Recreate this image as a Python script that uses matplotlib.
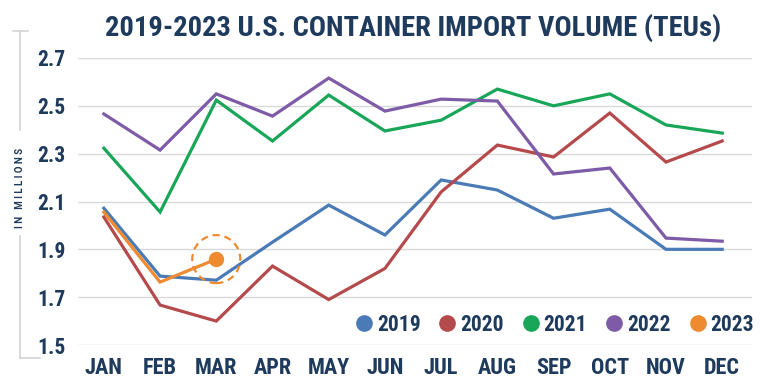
import matplotlib
matplotlib.use("Agg")
import matplotlib.pyplot as plt
from matplotlib import font_manager as fm
from matplotlib.lines import Line2D
from matplotlib.patches import Ellipse

names = {f.name for f in fm.fontManager.ttflist}
cond = None
for cand in ["Roboto Condensed", "Liberation Sans Narrow", "Open Sans Condensed", "DejaVu Sans Condensed"]:
    if cand in names:
        cond = cand
        break
if cond is None:
    cond = "Roboto"

months = ["JAN", "FEB", "MAR", "APR", "MAY", "JUN", "JUL", "AUG", "SEP", "OCT", "NOV", "DEC"]
y2019 = [2.072, 1.788, 1.771, 1.93, 2.085, 1.96, 2.19, 2.148, 2.03, 2.068, 1.90, 1.90]
y2020 = [2.035, 1.667, 1.60, 1.83, 1.69, 1.82, 2.14, 2.336, 2.286, 2.47, 2.265, 2.353]
y2021 = [2.323, 2.056, 2.524, 2.353, 2.545, 2.395, 2.44, 2.57, 2.50, 2.55, 2.42, 2.386]
y2022 = [2.466, 2.315, 2.55, 2.457, 2.616, 2.478, 2.528, 2.52, 2.215, 2.24, 1.947, 1.934]
y2023 = [2.056, 1.763, 1.859]
years = ["2019", "2020", "2021", "2022", "2023"]
yticks = [1.5, 1.7, 1.9, 2.1, 2.3, 2.5, 2.7]
colors = ["#4a7bb6", "#b54a4c", "#1aa659", "#7d5ba6", "#ee8a30"]
navy = "#1e3a5c"

fig = plt.figure(figsize=(7.68, 3.87), dpi=100)
ax = fig.add_axes([78/768, 1-345/387, (752-78)/768, (345-58)/387])
x = list(range(12))
series = [y2019, y2020, y2021, y2022, y2023]
for s, c in zip(series, colors):
    ax.plot(x[:len(s)], s, color=c, lw=2.3, solid_joinstyle="miter", zorder=3)

# highlight last 2023 point
ax.plot([2], [y2023[2]], "o", color=colors[4], ms=10, zorder=4)
xlim = (-0.46, 11.53)
ylim = (1.5, 2.7)
px_x = (xlim[1] - xlim[0]) / (752 - 78)
px_y = (ylim[1] - ylim[0]) / (345 - 58)
r = 24
ring = Ellipse((2, y2023[2]), 2*r*px_x, 2*r*px_y, fill=False, ec=colors[4], lw=1.6,
               ls=(0, (3.2, 2.2)), zorder=4)
ax.add_patch(ring)

ax.set_xlim(*xlim)
ax.set_ylim(*ylim)
ax.set_yticks(yticks)
ax.set_yticklabels([f"{v:.1f}" for v in yticks])
ax.set_xticks(x)
ax.set_xticklabels(months)
for sp in ax.spines.values():
    sp.set_visible(False)
ax.grid(axis="y", color="#d9d9d9", lw=1.0)
ax.set_axisbelow(True)
ax.tick_params(length=0)
for lab in ax.get_yticklabels():
    lab.set_fontfamily(cond); lab.set_fontweight("bold"); lab.set_fontsize(15.5); lab.set_color(navy)
for lab in ax.get_xticklabels():
    lab.set_fontfamily(cond); lab.set_fontweight("bold"); lab.set_fontsize(16); lab.set_color(navy)
ax.tick_params(axis="y", pad=9)
ax.tick_params(axis="x", pad=9)

fig.text(413/768, 1-28/387, "2019-2023 U.S. CONTAINER IMPORT VOLUME (TEUs)", ha="center", va="center",
         fontfamily=cond, fontweight="bold", fontsize=20.5, color=navy)

# y label
fig.text(20/768, 1-188/387, "I N   M I L L I O N S", rotation=90, ha="center", va="center",
         fontfamily="Roboto", fontweight="bold", fontsize=7, color=navy)

# bracket
gray = "#d4d4d4"
def fl(xs, ys):
    fig.add_artist(Line2D([v/768 for v in xs], [1-v/387 for v in ys], color=gray, lw=1.2,
                          transform=fig.transFigure))
fl([13, 28], [31, 31])
fl([20, 20], [31, 130])
fl([20, 20], [236, 358])
fl([20, 40], [358, 358])

# legend
handles = [Line2D([], [], marker="o", ls="none", color=c, ms=11) for c in colors]
leg = fig.legend(handles, years, loc="center right", ncol=5, frameon=False,
                 bbox_to_anchor=(754/768, 1-325/387), handletextpad=0.1, columnspacing=0.75,
                 borderaxespad=0.0, borderpad=0.0, handlelength=1.0,
                 prop={"family": cond, "weight": "bold", "size": 15.5})
for t in leg.get_texts():
    t.set_color(navy)

fig.savefig("out.png", dpi=100, facecolor="white")
